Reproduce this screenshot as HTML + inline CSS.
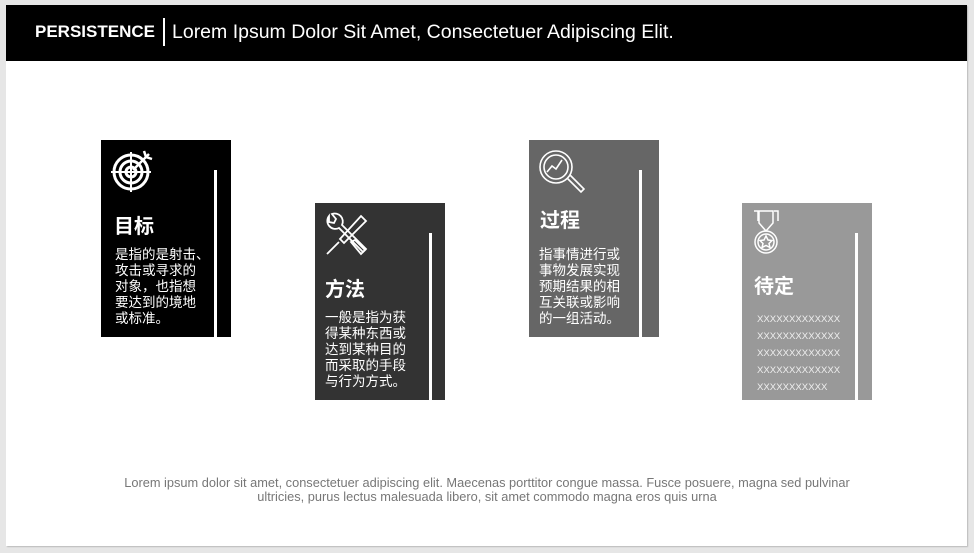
<!DOCTYPE html>
<html><head><meta charset="utf-8"><style>
*{margin:0;padding:0;box-sizing:border-box}
body{width:974px;height:553px;background:#e6e6e6;position:relative;overflow:hidden;font-family:"Liberation Sans","Noto Sans CJK SC",sans-serif}
.slide{position:absolute;left:6px;top:5px;width:961px;height:541px;background:#fff;box-shadow:1px 1px 1px #bbb}
.hdr{position:absolute;left:0;top:0;width:961px;height:56px;background:#000;color:#fff}
.hdr .b{position:absolute;left:29px;top:17px;font-size:17px;font-weight:bold}
.hdr .sep{position:absolute;left:157px;top:13px;width:2px;height:28px;background:#fff}
.hdr .t{position:absolute;left:166px;top:16px;font-size:19.5px}
.card{position:absolute;width:130px;height:197px;color:#fff}
.bar{position:absolute;width:3px;background:#fff;bottom:0;height:167px}
.ti{position:absolute;font-size:20px;font-weight:bold}
.tx{position:absolute;font-size:13.5px;line-height:16px;white-space:nowrap}
.xx{position:absolute;font-size:9.6px;line-height:17px;color:#eee}
.ft{position:absolute;left:0;width:974px;text-align:center;top:476px;font-size:12.8px;line-height:14px;color:#777}
svg{position:absolute}
</style></head><body>
<div class="slide">
<div class="hdr"><div class="b">PERSISTENCE</div><div class="sep"></div><div class="t">Lorem Ipsum Dolor Sit Amet, Consectetuer Adipiscing Elit.</div></div>
</div>

<div class="card" style="left:101px;top:140px;background:#000">
<div class="bar" style="left:113px"></div>
<svg style="left:10px;top:8px" width="46" height="46" viewBox="0 0 46 46" fill="none" stroke="#fff" stroke-width="3"><circle cx="20" cy="24" r="17"/><circle cx="20" cy="24" r="11"/><circle cx="20" cy="24" r="5"/><path d="M20 4v40M0 24h40" stroke-width="2"/><path d="M22 22L38 6M33 3l2 6 6 2" stroke-width="2.5"/></svg>
<div class="ti" style="left:13px;top:70px">目标</div>
<div class="tx" style="left:14px;top:107px">是指的是射击、<br>攻击或寻求的<br>对象，也指想<br>要达到的境地<br>或标准。</div>
</div>

<div class="card" style="left:315px;top:203px;background:#333">
<div class="bar" style="left:114px"></div>
<svg style="left:8px;top:9px" width="48" height="46" viewBox="0 0 48 46" fill="none" stroke="#fff" stroke-width="1.8"><path d="M6 4a8 8 0 0 0 10 12L40 40l3-3L19 13A8 8 0 0 0 9 2l4 5-2 4-5-1z"/><path d="M38 4l5 5-22 22-4-4zM16 30l-12 12M28 30l10 12 4-4-10-10z"/></svg>
<div class="ti" style="left:10px;top:70px">方法</div>
<div class="tx" style="left:10px;top:107px">一般是指为获<br>得某种东西或<br>达到某种目的<br>而采取的手段<br>与行为方式。</div>
</div>

<div class="card" style="left:529px;top:140px;background:#666">
<div class="bar" style="left:110px"></div>
<svg style="left:8px;top:8px" width="48" height="48" viewBox="0 0 48 48" fill="none" stroke="#fff" stroke-width="1.6"><circle cx="19" cy="19" r="16"/><circle cx="19" cy="19" r="12"/><path d="M30 30l14 14 3-3-14-14M10 24l5-6 4 3 6-9"/></svg>
<div class="ti" style="left:11px;top:64px">过程</div>
<div class="tx" style="left:10px;top:107px">指事情进行或<br>事物发展实现<br>预期结果的相<br>互关联或影响<br>的一组活动。</div>
</div>

<div class="card" style="left:742px;top:203px;background:#999">
<div class="bar" style="left:113px"></div>
<svg style="left:10px;top:6px" width="28" height="46" viewBox="0 0 28 46" fill="none" stroke="#fff" stroke-width="1.5"><path d="M2 2h4v10M22 2h4v10M7 2h14v12l-7 8-7-8z"/><circle cx="14" cy="33" r="11"/><circle cx="14" cy="33" r="8"/><path d="M14 27l2 4 4 .5-3 3 1 4-4-2-4 2 1-4-3-3 4-.5z"/></svg>
<div class="ti" style="left:12px;top:67px">待定</div>
<div class="xx" style="left:15px;top:108px">XXXXXXXXXXXXX<br>XXXXXXXXXXXXX<br>XXXXXXXXXXXXX<br>XXXXXXXXXXXXX<br>XXXXXXXXXXX</div>
</div>

<div class="ft">Lorem ipsum dolor sit amet, consectetuer adipiscing elit. Maecenas porttitor congue massa. Fusce posuere, magna sed pulvinar<br>ultricies, purus lectus malesuada libero, sit amet commodo magna eros quis urna</div>
</body></html>
